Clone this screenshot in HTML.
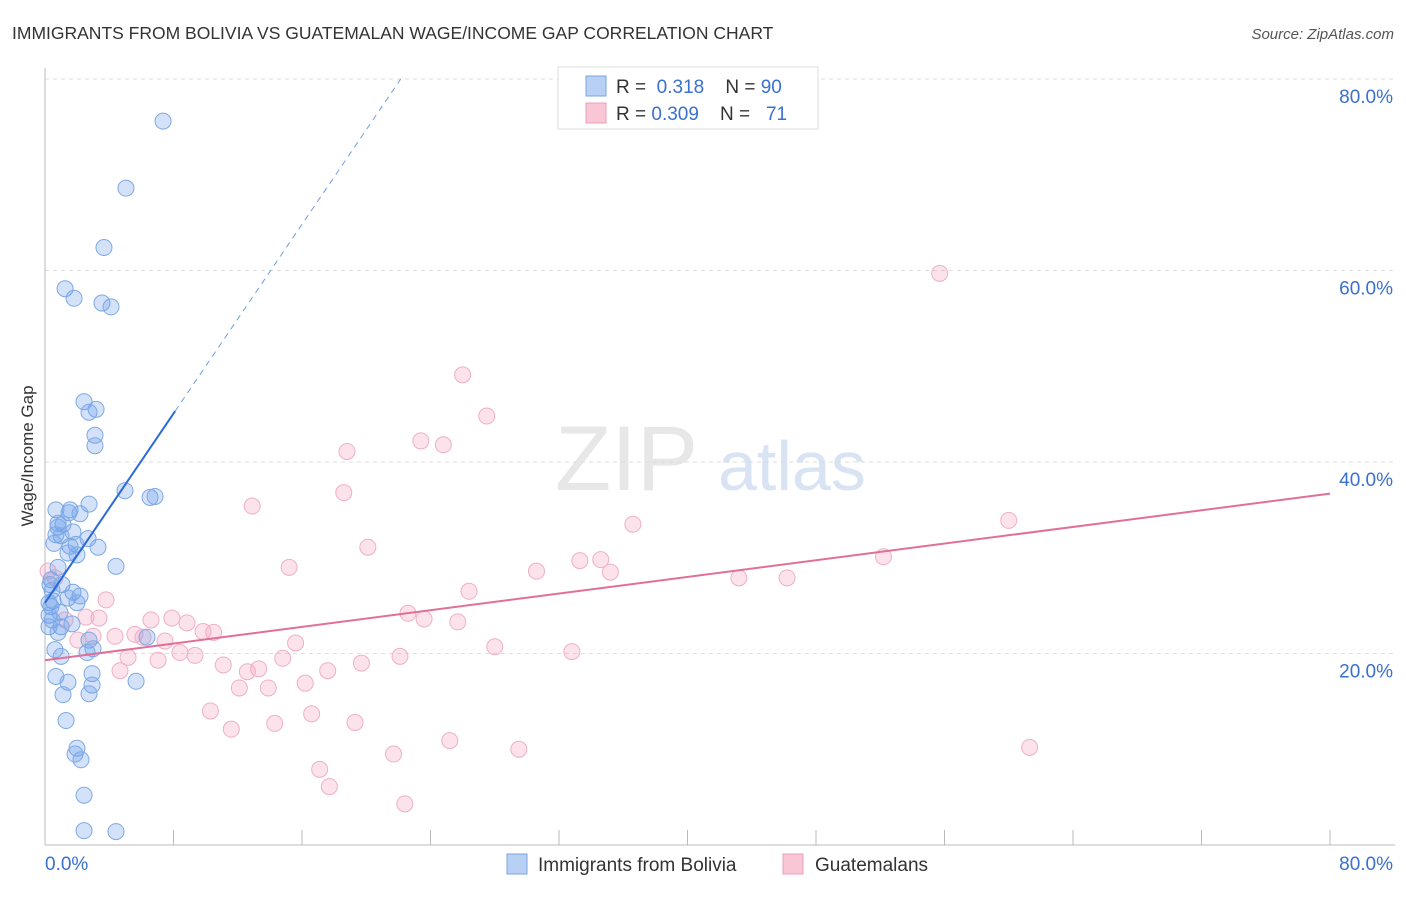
<!DOCTYPE html>
<html><head><meta charset="utf-8"><style>
body{margin:0;background:#fff;font-family:"Liberation Sans",sans-serif;}
svg text{font-family:"Liberation Sans",sans-serif;}
</style></head><body>
<svg id="chart" width="1406" height="892" xmlns="http://www.w3.org/2000/svg">
<text x="12" y="39" font-size="17.5" fill="#333">IMMIGRANTS FROM BOLIVIA VS GUATEMALAN WAGE/INCOME GAP CORRELATION CHART</text>
<text x="1394" y="39" font-size="15" fill="#555" text-anchor="end" font-style="italic">Source: ZipAtlas.com</text>
<g id="grid"></g>
<text x="555" y="490" font-size="92" fill="#ddd" font-family="Liberation Serif" opacity="0.7">ZIP</text>
<text x="718" y="490" font-size="70" fill="#c8d8f0" opacity="0.7">atlas</text>
<text transform="translate(33,456) rotate(-90)" font-size="17" fill="#333" text-anchor="middle">Wage/Income Gap</text>
<g id="marks"></g>
<g>
<rect x="558" y="67" width="260" height="62" fill="#fff" stroke="#ddd"/>
<rect x="586" y="76" width="20" height="20" fill="#b8d0f4" stroke="#7aa5e0"/>
<rect x="586" y="103" width="20" height="20" fill="#f9c6d6" stroke="#e8a0b8"/>
<text x="616" y="93" font-size="19" fill="#333">R = <tspan fill="#3a70d0">&#160;0.318</tspan>&#160;&#160;&#160;&#160;N = <tspan fill="#3a70d0"> 90</tspan></text>
<text x="616" y="120" font-size="19" fill="#333">R = <tspan fill="#3a70d0">0.309</tspan>&#160;&#160;&#160;&#160;N = <tspan fill="#3a70d0">&#160;&#160;71</tspan></text>
</g>
<g>
<rect x="507" y="854" width="20" height="20" fill="#b8d0f4" stroke="#7aa5e0"/>
<text x="538" y="871" font-size="19" fill="#333">Immigrants from Bolivia</text>
<rect x="783" y="854" width="20" height="20" fill="#f9c6d6" stroke="#e8a0b8"/>
<text x="815" y="871" font-size="19" fill="#333">Guatemalans</text>
</g>
</svg>
<script>
const blueX=[7.35,5.04,3.67,1.25,1.81,3.55,4.11,2.43,3.18,2.74,3.11,3.11,4.98,6.54,6.85,2.74,1.56,0.68,2.18,1.49,0.81,1.12,0.81,1.74,0.68,1.0,2.68,1.93,1.56,0.56,3.3,1.43,1.99,4.42,0.81,0.37,1.06,0.31,0.44,1.74,2.18,1.43,0.5,1.99,0.25,0.37,0.93,0.25,0.44,1.68,0.25,1.0,0.81,2.74,6.35,2.99,2.62,0.62,1.0,2.93,5.67,0.68,1.43,2.93,2.74,1.12,1.31,1.99,1.87,2.24,2.43,2.43,4.42];
const blueY=[75.6,68.6,62.4,58.1,57.1,56.6,56.2,46.3,45.5,45.2,42.8,41.7,37.0,36.3,36.4,35.6,35.0,35.0,34.6,34.7,33.6,33.5,33.2,32.7,32.4,32.3,32.0,31.4,31.2,31.5,31.1,30.5,30.3,29.1,29.0,27.7,27.2,27.2,26.6,26.4,26.0,25.8,25.5,25.3,25.3,24.9,24.3,24.0,23.5,23.1,22.8,22.8,22.2,21.4,21.7,20.5,20.1,20.4,19.7,17.9,17.1,17.6,17.0,16.7,15.8,15.7,13.0,10.1,9.5,8.9,5.2,1.5,1.4];
const pinkX=[55.7,26.0,27.5,23.4,24.8,18.8,18.6,12.9,60.0,36.6,20.1,52.2,33.3,34.6,15.2,35.2,30.6,43.2,46.2,26.4,3.8,22.6,23.6,6.6,7.9,8.84,3.36,2.55,25.7,1.25,9.84,10.5,5.6,4.36,2.99,7.47,2.05,6.1,15.6,28.0,8.4,9.34,32.8,22.1,14.8,5.17,7.04,11.1,19.7,13.3,12.6,4.67,17.6,16.2,12.1,13.9,10.3,16.6,14.3,19.3,11.6,25.2,29.5,61.3,21.7,17.1,17.7,22.4,0.62,0.19];
const pinkY=[59.7,49.1,44.8,42.2,41.8,41.1,36.8,35.4,33.9,33.5,31.1,30.1,29.7,29.8,29.0,28.5,28.6,27.9,27.9,26.5,25.6,24.2,23.6,23.5,23.7,23.2,23.7,23.8,23.3,23.5,22.3,22.2,22.0,21.8,21.8,21.3,21.4,21.7,21.1,20.7,20.1,19.8,20.2,19.7,19.5,19.6,19.3,18.8,19.0,18.4,18.1,18.2,18.2,16.9,16.4,16.4,14.0,13.7,12.7,12.8,12.1,10.9,10.0,10.2,9.5,7.9,6.1,4.3,27.9,28.6];
const yTicks=[20,40,60,80];
const xTicks=[8,16,24,32,40,48,56,64,72,80];
const blueTrend=[25.3,2.47];
const pinkTrend=[19.3,0.2175];
const NS="http://www.w3.org/2000/svg";
const sx=v=>45+v*16.0625, sy=v=>845-v*9.575;
function mk(t,a,p){const e=document.createElementNS(NS,t);for(const k in a)e.setAttribute(k,a[k]);p.appendChild(e);return e;}
const grid=document.getElementById('grid'),marks=document.getElementById('marks');
yTicks.forEach(t=>{
 const l=mk('line',{x1:45,x2:1395,y1:sy(t),y2:sy(t),stroke:'#ddd','stroke-dasharray':'4,4'},grid);
 
 
 const tx=mk('text',{x:1393,y:sy(t)+24,'font-size':19,fill:'#3a70d0','text-anchor':'end'},grid);
 tx.textContent=t.toFixed(1)+'%';
 
 
});
const ax=mk('line',{x1:45,x2:1395,y1:845,y2:845,stroke:'#bbb'},grid);


const ay=mk('line',{x1:45,x2:45,y1:68,y2:845,stroke:'#bbb'},grid);


xTicks.forEach(t=>{const l=mk('line',{x1:sx(t),x2:sx(t),y1:830,y2:845,stroke:'#bbb'},grid);
 
 });
const x0=mk('text',{x:45,y:870,'font-size':19,fill:'#3a70d0'},grid);x0.textContent='0.0%';


const x1=mk('text',{x:1393,y:870,'font-size':19,fill:'#3a70d0','text-anchor':'end'},grid);x1.textContent='80.0%';


pinkX.forEach((x,i)=>{const c=mk('circle',{cx:sx(x),cy:sy(pinkY[i]),r:8,fill:'rgba(244,160,190,0.3)',stroke:'#eeb0c4','stroke-width':1},marks);
 
 });
blueX.forEach((x,i)=>{const c=mk('circle',{cx:sx(x),cy:sy(blueY[i]),r:8,fill:'rgba(110,160,235,0.3)',stroke:'#7fa9e4','stroke-width':1},marks);
 
 });
const bx1=8.1,bx2=(80-blueTrend[0])/blueTrend[1];
const b1=mk('line',{x1:sx(0),y1:sy(blueTrend[0]),x2:sx(bx1),y2:sy(blueTrend[0]+blueTrend[1]*bx1),stroke:'#2a6ad8','stroke-width':2},marks);


const b2=mk('line',{x1:sx(bx1),y1:sy(blueTrend[0]+blueTrend[1]*bx1),x2:sx(bx2),y2:sy(80),stroke:'#6f9ee0','stroke-width':1,'stroke-dasharray':'6,5'},marks);


const p1=mk('line',{x1:sx(0),y1:sy(pinkTrend[0]),x2:sx(80),y2:sy(pinkTrend[0]+pinkTrend[1]*80),stroke:'#e0709a','stroke-width':2},marks);


</script>
</body></html>
